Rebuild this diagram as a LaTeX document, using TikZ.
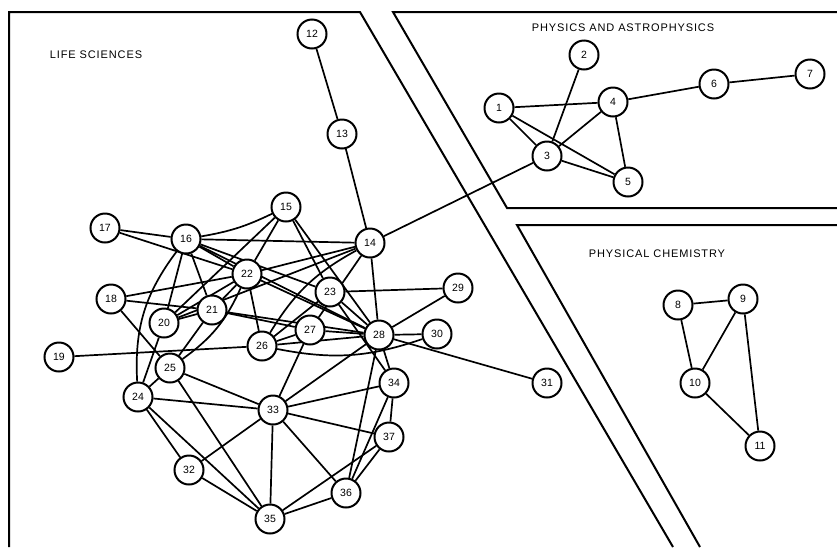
\documentclass[tikz,border=0pt]{standalone}
\usepackage{fontspec}
\setmainfont{Liberation Sans}
\usetikzlibrary{backgrounds}

\tikzset{
  paper/.style={circle,draw,fill=white,line width=2pt,minimum size=29pt,inner sep=0pt,font=\fontsize{10.5}{10.5}\selectfont},
  link/.style={line width=1.7pt},
  frame/.style={line width=2pt},
  field/.style={font=\fontsize{11}{11}\selectfont\addfontfeature{LetterSpace=8}}
}

\begin{document}
\begin{tikzpicture}[x=1pt,y=-1pt]

    \useasboundingbox (0,0) rectangle (837,547);

    % fields
    \draw[frame] (9,547) -- (9,12) -- (360,12) -- (673,547);
    \draw[frame] (837,12) -- (393,12) -- (507,208) -- (837,208);
    \draw[frame] (837,225) -- (517,225) -- (700,547);

    \node[field] (ls) at (96,55) {LIFE SCIENCES};
    \node[field] (pa) at (623,28) {PHYSICS AND ASTROPHYSICS};
    \node[field] (pc) at (657,254) {PHYSICAL CHEMISTRY};

    % papers
    \node[paper] (n1) at (499,108) {1};
    \node[paper] (n2) at (584,55) {2};
    \node[paper] (n3) at (547,156) {3};
    \node[paper] (n4) at (613,102) {4};
    \node[paper] (n5) at (628,182) {5};
    \node[paper] (n6) at (714,84) {6};
    \node[paper] (n7) at (810,74) {7};

    \node[paper] (n8) at (678,305) {8};
    \node[paper] (n9) at (743,299) {9};
    \node[paper] (n10) at (695,383) {10};
    \node[paper] (n11) at (760,446) {11};

    \node[paper] (n12) at (312,34) {12};
    \node[paper] (n13) at (342,134) {13};
    \node[paper] (n14) at (370,243) {14};
    \node[paper] (n15) at (286,207) {15};
    \node[paper] (n16) at (186,239) {16};
    \node[paper] (n17) at (105,228) {17};
    \node[paper] (n18) at (111,299) {18};
    \node[paper] (n19) at (59,357) {19};
    \node[paper] (n20) at (164,323) {20};
    \node[paper] (n21) at (212,310) {21};
    \node[paper] (n22) at (247,274) {22};
    \node[paper] (n23) at (330,292) {23};
    \node[paper] (n24) at (138,397) {24};
    \node[paper] (n25) at (170,368) {25};
    \node[paper] (n26) at (262,346) {26};
    \node[paper] (n27) at (310,330) {27};
    \node[paper] (n28) at (379,335) {28};
    \node[paper] (n29) at (458,288) {29};
    \node[paper] (n30) at (437,334) {30};
    \node[paper] (n31) at (547,383) {31};
    \node[paper] (n32) at (189,470) {32};
    \node[paper] (n33) at (273,410) {33};
    \node[paper] (n34) at (394,383) {34};
    \node[paper] (n35) at (270,519) {35};
    \node[paper] (n36) at (346,493) {36};
    \node[paper] (n37) at (389,437) {37};

    % links
    \begin{scope}[on background layer]
    \begin{scope}[link]
    \draw (n1) -- (n4);  \draw (n1) -- (n3);  \draw (n1) -- (n5);
    \draw (n2) -- (n3);  \draw (n3) -- (n4);  \draw (n3) -- (n5);
    \draw (n4) -- (n5);  \draw (n4) -- (n6);  \draw (n6) -- (n7);
    \draw (n3) -- (n14);

    \draw (n8) -- (n9);  \draw (n8) -- (n10); \draw (n9) -- (n10);
    \draw (n9) -- (n11); \draw (n10) -- (n11);

    \draw (n12) -- (n13); \draw (n13) -- (n14);
    \draw (n14) -- (n16); \draw (n14) -- (n20); \draw (n14) -- (n22);
    \draw (n14) to[bend right=15] (n26);
    \draw (n14) -- (n27); \draw (n14) -- (n28);
    \draw (n15) to[bend left=8] (n16);
    \draw (n15) -- (n20); \draw (n15) -- (n22); \draw (n15) -- (n23);
    \draw (n15) -- (n28);
    \draw (n16) -- (n17); \draw (n16) -- (n20); \draw (n16) -- (n21);
    \draw (n16) -- (n22); \draw (n16) to[bend right=20] (n24);
    \draw (n16) -- (n23); \draw (n16) -- (n28);
    \draw (n17) -- (n22);
    \draw (n18) -- (n21); \draw (n18) -- (n22); \draw (n18) -- (n25);
    \draw (n19) -- (n26);
    \draw (n20) -- (n21); \draw (n20) -- (n22); \draw (n20) -- (n24);
    \draw (n21) -- (n22); \draw (n21) -- (n25); \draw (n21) -- (n27);
    \draw (n21) -- (n28);
    \draw (n22) to[bend left=15] (n25);
    \draw (n22) -- (n26); \draw (n22) -- (n28);
    \draw (n23) -- (n29); \draw (n23) -- (n28); \draw (n23) -- (n26);
    \draw (n23) -- (n34);
    \draw (n24) -- (n25); \draw (n24) -- (n32); \draw (n24) -- (n33);
    \draw (n24) -- (n35);
    \draw (n25) -- (n33); \draw (n25) -- (n35);
    \draw (n26) -- (n27); \draw (n26) -- (n28);
    \draw (n26) to[bend right=15] (n30);
    \draw (n27) -- (n28); \draw (n27) -- (n33);
    \draw (n28) -- (n29); \draw (n28) -- (n30); \draw (n28) -- (n31);
    \draw (n28) -- (n33); \draw (n28) -- (n34); \draw (n28) -- (n36);
    \draw (n32) -- (n33); \draw (n32) -- (n35);
    \draw (n33) -- (n34); \draw (n33) -- (n35); \draw (n33) -- (n36);
    \draw (n33) -- (n37);
    \draw (n34) -- (n36); \draw (n34) -- (n37);
    \draw (n35) -- (n36); \draw (n35) -- (n37);
    \draw (n36) -- (n37);
    \end{scope}
    \end{scope}

\end{tikzpicture}
\end{document}
